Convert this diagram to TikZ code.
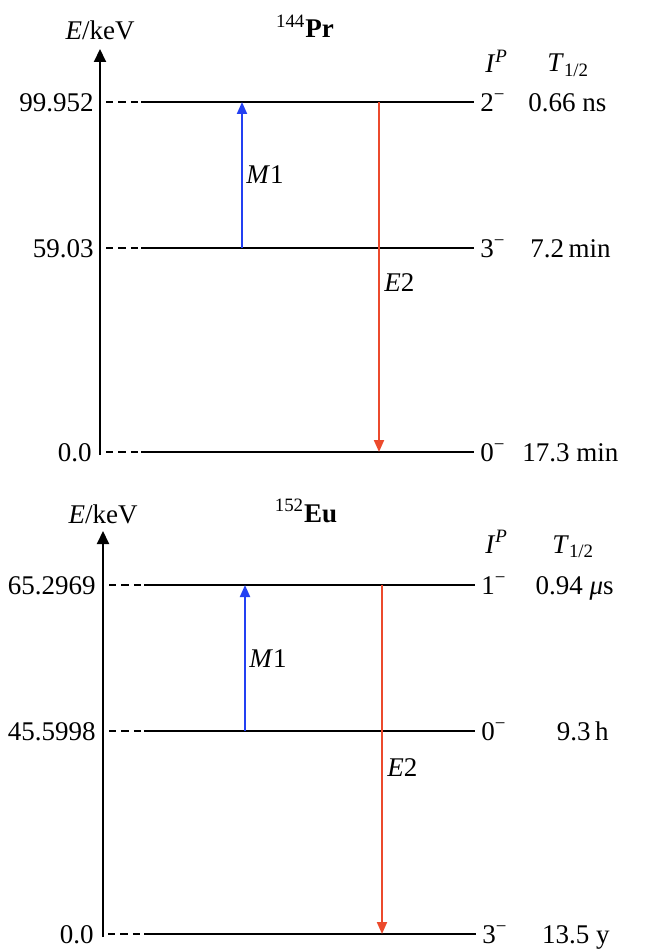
\documentclass[tikz,border=0pt]{standalone}
\usepackage{fontspec}
\setmainfont{Liberation Serif}
\usetikzlibrary{arrows.meta, positioning}
\definecolor{MBlue}{HTML}{2340F2}
\definecolor{ERed}{HTML}{EC4A2C}

\begin{document}
\begin{tikzpicture}[x=0.5pt, y=-0.5pt, font=\fontsize{13.5}{16}\selectfont,
  level/.style={line width=1pt},
  lead/.style={line width=0.9pt, dash pattern=on 3.6pt off 2.6pt},
  axis/.style={line width=1pt, -{Triangle[width=6pt, length=6.5pt]}},
  mtrans/.style={MBlue, line width=1pt, -{Triangle[width=5pt, length=6pt]}},
  etrans/.style={ERed, line width=1pt, -{Triangle[width=5pt, length=6pt]}},
  lab/.style={inner sep=1pt, text height=9.2pt, text depth=0pt}]
  \useasboundingbox (0,0) rectangle (654,952);

  % 144Pr
  \node[anchor=base] (ptitle) at (305,38) {\textsuperscript{144}\textbf{Pr}};
  \coordinate (pax0) at (100,455);
  \coordinate (pax1) at (100,49);
  \draw[axis] (pax0) -- (pax1);
  \node[anchor=base] (pek) at (100,40) {\textit{E}/keV};
  \node[anchor=base west, inner sep=0pt] (pip) at (485,73) {\textit{I}\textsuperscript{\textit{P}}};
  \node[anchor=base west, inner sep=0pt] (pth) at (547,72) {\textit{T}\textsubscript{1/2}};

  \coordinate (p1a) at (106,102); \coordinate (p1b) at (141,102); \coordinate (p1c) at (474,102);
  \coordinate (p2a) at (106,248); \coordinate (p2b) at (141,248); \coordinate (p2c) at (474,248);
  \coordinate (p3a) at (106,452); \coordinate (p3b) at (141,452); \coordinate (p3c) at (474,452);
  \node[lab, anchor=east] (p1e) at (96,102) {99.952};
  \node[lab, anchor=east] (p2e) at (96,248) {59.03};
  \node[lab, anchor=east] (p3e) at (94,452) {0.0};
  \draw[lead] (p1a) -- (p1b);
  \draw[lead] (p2a) -- (p2b);
  \draw[lead] (p3a) -- (p3b);
  \draw[level] (p1b) -- (p1c);
  \draw[level] (p2b) -- (p2c);
  \draw[level] (p3b) -- (p3c);
  \node[lab, anchor=west, right=2pt of p1c] (p1s) {2\textsuperscript{−}};
  \node[lab, anchor=west, right=2pt of p2c] (p2s) {3\textsuperscript{−}};
  \node[lab, anchor=west, right=2pt of p3c] (p3s) {0\textsuperscript{−}};
  \node[lab, anchor=west] (p1t) at (526,102) {0.66 ns};
  \node[lab, anchor=west] (p2t) at (528,248) {7.2\,min};
  \node[lab, anchor=west] (p3t) at (520,452) {17.3 min};

  \coordinate (pm0) at (242,248); \coordinate (pm1) at (242,102);
  \draw[mtrans] (pm0) -- (pm1);
  \node[lab, anchor=west] (pml) at (244,174) {\textit{M}1};
  \coordinate (pe0) at (379,102); \coordinate (pe1) at (379,452);
  \draw[etrans] (pe0) -- (pe1);
  \node[lab, anchor=west] (pel) at (382,282) {\textit{E}2};

  % 152Eu
  \node[anchor=base] (etitle) at (306,522) {\textsuperscript{152}\textbf{Eu}};
  \coordinate (eax0) at (103,937);
  \coordinate (eax1) at (103,531);
  \draw[axis] (eax0) -- (eax1);
  \node[anchor=base] (eek) at (103,523) {\textit{E}/keV};
  \node[anchor=base west, inner sep=0pt] (eip) at (485,553) {\textit{I}\textsuperscript{\textit{P}}};
  \node[anchor=base west, inner sep=0pt] (eth) at (552,553) {\textit{T}\textsubscript{1/2}};

  \coordinate (e1a) at (109,585); \coordinate (e1b) at (144,585); \coordinate (e1c) at (475,585);
  \coordinate (e2a) at (109,731); \coordinate (e2b) at (144,731); \coordinate (e2c) at (475,731);
  \coordinate (e3a) at (108,934); \coordinate (e3b) at (144,934); \coordinate (e3c) at (476,934);
  \node[lab, anchor=east] (e1e) at (98,585) {65.2969};
  \node[lab, anchor=east] (e2e) at (98,731) {45.5998};
  \node[lab, anchor=east] (e3e) at (96,934) {0.0};
  \draw[lead] (e1a) -- (e1b);
  \draw[lead] (e2a) -- (e2b);
  \draw[lead] (e3a) -- (e3b);
  \draw[level] (e1b) -- (e1c);
  \draw[level] (e2b) -- (e2c);
  \draw[level] (e3b) -- (e3c);
  \node[lab, anchor=west, right=2pt of e1c] (e1s) {1\textsuperscript{−}};
  \node[lab, anchor=west, right=2pt of e2c] (e2s) {0\textsuperscript{−}};
  \node[lab, anchor=west, right=2pt of e3c] (e3s) {3\textsuperscript{−}};
  \node[lab, anchor=east] (e1t) at (616,585) {0.94 \textit{μ}s};
  \node[lab, anchor=east] (e2t) at (611,731) {9.3\,h};
  \node[lab, anchor=east] (e3t) at (612,934) {13.5 y};

  \coordinate (em0) at (245,731); \coordinate (em1) at (245,585);
  \draw[mtrans] (em0) -- (em1);
  \node[lab, anchor=west] (eml) at (247,658) {\textit{M}1};
  \coordinate (ee0) at (382,585); \coordinate (ee1) at (382,934);
  \draw[etrans] (ee0) -- (ee1);
  \node[lab, anchor=west] (eel) at (385,767) {\textit{E}2};
\end{tikzpicture}
\end{document}
